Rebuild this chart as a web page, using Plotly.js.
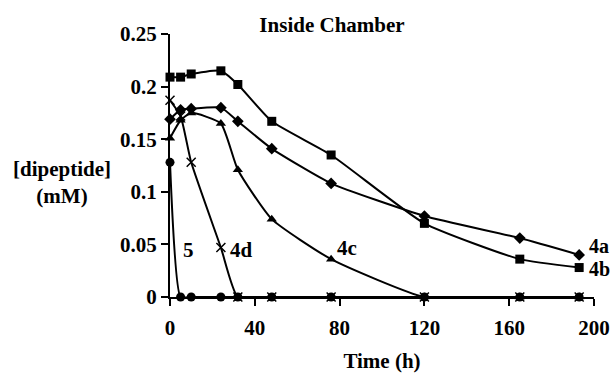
<!DOCTYPE html>
<html>
<head>
<meta charset="utf-8">
<script src="https://cdn.plot.ly/plotly-3.0.1.min.js"></script>
<style>html,body{margin:0;padding:0;background:#fff;}#chart{width:613px;height:373px;}</style>
</head>
<body>
<div id="chart"></div>
<script>
const time = [0, 5, 10, 24, 32, 48, 76, 120, 165, 193];
const s4a = [0.169, 0.178, 0.179, 0.180, 0.167, 0.141, 0.108, 0.077, 0.056, 0.040];
const s4b = [0.209, 0.209, 0.212, 0.215, 0.202, 0.167, 0.135, 0.070, 0.036, 0.028];
const s4c = [0.151, 0.168, 0.175, 0.165, 0.121, 0.074, 0.036, 0, 0, 0];
const s4d = [0.187, 0.172, 0.128, 0.047, 0, 0, 0, 0, 0, 0];
const s5  = [0.128, 0, 0, 0, 0, 0, 0, 0, 0, 0];
const seriesNames = ['4a', '4b', '4c', '4d', '5'];
const tickVals = [0, 40, 80, 120, 160, 200];
const yTickVals = [0, 0.05, 0.1, 0.15, 0.2, 0.25];
const yTickText = ['0', '0.05', '0.1', '0.15', '0.2', '0.25'];

const FONT = 'Liberation Serif, Times New Roman, serif';
const lineStyle = {color: '#000', width: 2, shape: 'spline', smoothing: 0.5};

function tr(y, name, symbol, size) {
  return {x: time, y: y, name: name, type: 'scatter', mode: 'lines+markers',
    line: lineStyle, cliponaxis: false,
    marker: {symbol: symbol, size: size, color: '#000', line: {color: '#000', width: symbol === 'x-thin-open' ? 1.5 : 0}}};
}

const data = [
  tr(s5, seriesNames[4], 'circle', 9),
  tr(s4d, seriesNames[3], 'x-thin-open', 9),
  tr(s4c, seriesNames[2], 'triangle-up', 9),
  tr(s4a, seriesNames[0], 'diamond', 9),
  tr(s4b, seriesNames[1], 'square', 9)
];

function lab(text, x, y) {
  return {text: text, x: x, y: y, xref: 'x', yref: 'y', showarrow: false,
    font: {family: FONT, size: 21, weight: 'bold', color: '#000'}, xanchor: 'center', yanchor: 'middle'};
}
function labP(text, px, py) {
  return {text: text, x: (px-170)/424, y: (297-py)/263, xref: 'paper', yref: 'paper', showarrow: false,
    borderpad: 0, font: {family: FONT, size: 20, weight: 'bold', color: '#000'}, xanchor: 'center', yanchor: 'middle'};
}

const layout = {
  width: 613, height: 373,
  margin: {l: 170, r: 19, t: 34, b: 76},
  paper_bgcolor: '#fff', plot_bgcolor: '#fff',
  showlegend: false,
  font: {family: FONT, color: '#000'},
  title: {text: 'Inside Chamber', x: 332/613, xref: 'container', xanchor: 'center',
    y: 1 - 25/373, yref: 'container', yanchor: 'middle',
    font: {family: FONT, size: 21, weight: 'bold', color: '#000'}},
  xaxis: {range: [0, 200], tickvals: tickVals, ticktext: tickVals.map(String),
    showgrid: false, zeroline: false, showline: true, linecolor: '#000', linewidth: 2,
    ticks: 'outside', ticklen: 7, tickwidth: 2, tickcolor: '#000', ticklabelstandoff: 4,
    tickfont: {family: FONT, size: 21, weight: 'bold', color: '#000'},
    title: {text: 'Time (h)', standoff: 18, font: {family: FONT, size: 21, weight: 'bold', color: '#000'}}},
  yaxis: {range: [0, 0.25], tickvals: yTickVals, ticktext: yTickText,
    showgrid: false, zeroline: false, showline: true, linecolor: '#000', linewidth: 2,
    ticks: 'outside', ticklen: 7, tickwidth: 2, tickcolor: '#000',
    tickfont: {family: FONT, size: 21, weight: 'bold', color: '#000'}},
  annotations: [
    {text: '[dipeptide]<br>(mM)', xref: 'paper', yref: 'paper', x: (62-170)/424, y: (297-182.5)/263,
      showarrow: false, xanchor: 'center', yanchor: 'middle', align: 'center',
      font: {family: FONT, size: 21, weight: 'bold', color: '#000'}},
    lab('5', 8.5, 0.0447),
    lab('4d', 33.5, 0.0447),
    lab('4c', 83.5, 0.0466),
    labP('4a', 599, 246),
    labP('4b', 599, 269)
  ]
};

Plotly.newPlot('chart', data, layout, {displayModeBar: false, staticPlot: true});
</script>
</body>
</html>
